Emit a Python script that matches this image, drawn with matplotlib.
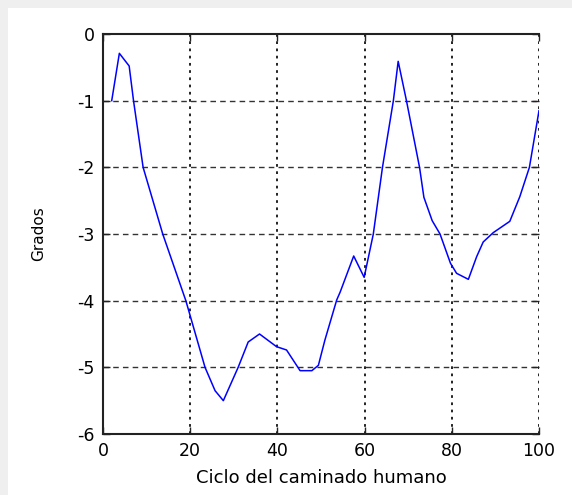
import matplotlib
matplotlib.use('Agg')
import matplotlib.pyplot as plt
from matplotlib.patches import Rectangle

# datos (ciclo %, grados)
ciclo = [2, 3.75, 6, 7, 9.2, 13.7, 19, 23.4, 25.7, 27.6, 31, 33.3, 35.9,
         39.8, 42.1, 45.2, 47.9, 49.4, 50.9, 53.6, 54.4, 57.5, 59.9, 62,
         64.1, 66.6, 67.7, 69.6, 72.6, 73.6, 75.5, 77.3, 79.7, 81.1, 83.8,
         85.7, 87.2, 89.5, 93.3, 95.6, 97.8, 100]
grados = [-1.0, -0.29, -0.48, -1.0, -2.0, -3.0, -4.0, -5.0, -5.35, -5.5,
          -5.0, -4.62, -4.5, -4.69, -4.74, -5.05, -5.05, -4.97, -4.59,
          -3.99, -3.87, -3.33, -3.65, -3.0, -2.0, -1.0, -0.41, -1.0, -2.0,
          -2.45, -2.8, -3.0, -3.44, -3.59, -3.68, -3.34, -3.12, -2.98,
          -2.81, -2.44, -2.0, -1.15]
xticks = [0, 20, 40, 60, 80, 100]
yticks = [-6, -5, -4, -3, -2, -1, 0]

fig = plt.figure(figsize=(5.72, 4.95), dpi=100)
fig.patch.set_facecolor('white')
# marco gris claro arriba e izquierda
fig.patches.append(Rectangle((0, 1 - 8 / 495), 1, 8 / 495, transform=fig.transFigure,
                             facecolor='#efefef', edgecolor='none', zorder=0))
fig.patches.append(Rectangle((0, 0), 8 / 572, 1, transform=fig.transFigure,
                             facecolor='#efefef', edgecolor='none', zorder=0))

ax = fig.add_axes([103 / 572, 61 / 495, 436 / 572, 400 / 495])
ax.plot(ciclo, grados, color='#0000ff', linewidth=1.1, zorder=3)

ax.set_xlim(0, 100)
ax.set_ylim(-6, 0)
ax.set_xticks(xticks)
ax.set_yticks(yticks)
ax.set_xticklabels([str(t) for t in xticks], fontsize=12.5, family='DejaVu Sans')
ax.set_yticklabels([str(t) for t in yticks], fontsize=12.5, family='DejaVu Sans')
ax.tick_params(direction='in', length=5, width=1, top=True, right=True,
               color='#222222', pad=6)

# rejilla: verticales punteadas, horizontales discontinuas
for xv in xticks[1:]:
    ax.axvline(xv, color='#111111', linestyle=(0, (1.5, 2.5)), linewidth=1.3, zorder=1)
for yv in yticks[1:-1]:
    ax.axhline(yv, color='#333333', linestyle=(0, (4, 3)), linewidth=1.0, zorder=1)

for s in ['left', 'bottom', 'top']:
    ax.spines[s].set_linewidth(1.5)
    ax.spines[s].set_color('#222222')
ax.spines['right'].set_visible(False)

ax.set_xlabel('Ciclo del caminado humano', fontsize=13, family='DejaVu Sans', labelpad=6)
ax.set_ylabel('Grados', fontsize=11, family='DejaVu Sans', labelpad=22)

fig.savefig('out.png', dpi=100)
